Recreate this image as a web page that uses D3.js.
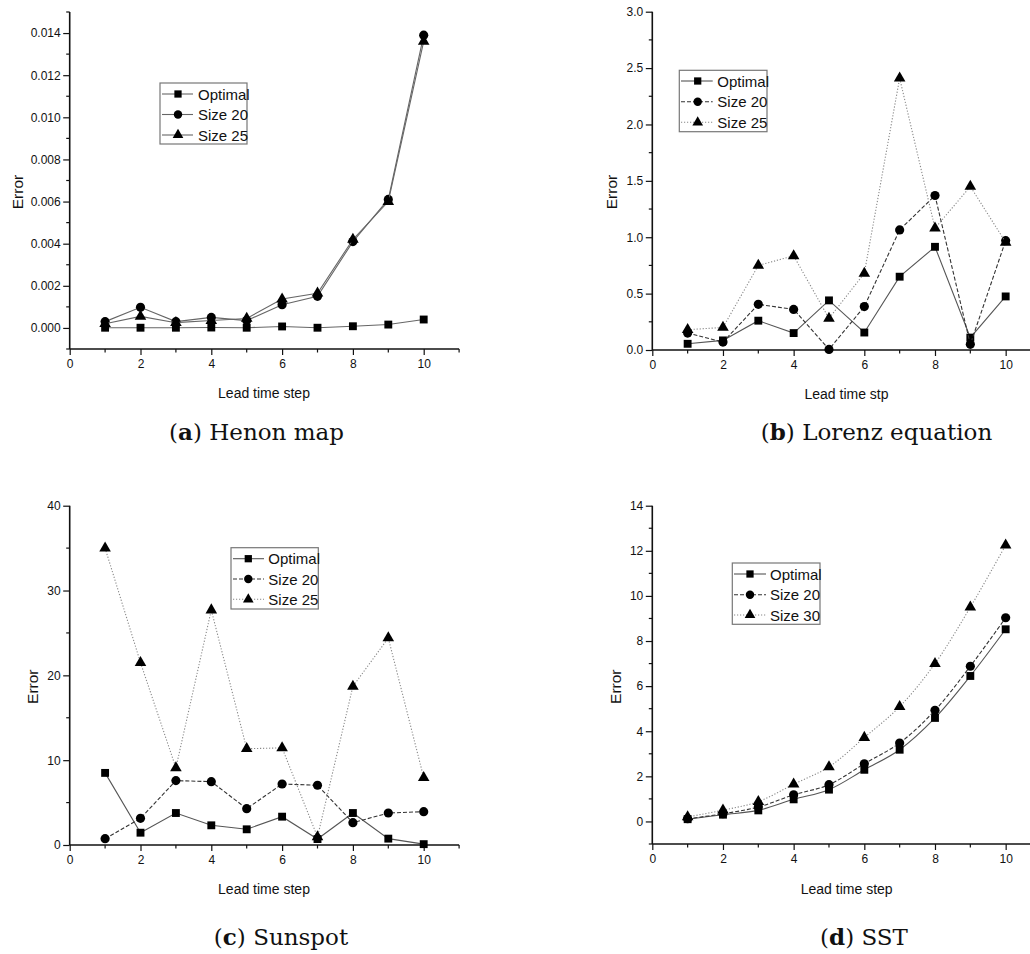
<!DOCTYPE html>
<html>
<head>
<meta charset="utf-8">
<script src="https://cdn.jsdelivr.net/npm/d3@7"></script>
<style>
  html, body { margin: 0; padding: 0; background: #fff; }
  svg { display: block; }
  .tick-label { font-family: "Liberation Sans", Arial, sans-serif; font-size: 12px; fill: #111; }
  .axis-title { font-family: "Liberation Sans", Arial, sans-serif; font-size: 14px; fill: #111; }
  .err-title { font-family: "Liberation Sans", Arial, sans-serif; font-size: 15.5px; fill: #111; }
  .legend-text { font-family: "Liberation Sans", Arial, sans-serif; font-size: 15px; fill: #111; }
  .caption { font-family: "DejaVu Serif", "Liberation Serif", serif; font-size: 23px; fill: #111; }
</style>
</head>
<body>
<svg id="chart" width="1030" height="954"></svg>
<script>
// ---------------- data ----------------
const steps = [1, 2, 3, 4, 5, 6, 7, 8, 9, 10];
const xTickValues = [0, 2, 4, 6, 8, 10];

// (a) Henon map
const henonOptimal = [0.00001, 0.00001, 0.00001, 0.00002, 0.00001, 0.00007, 0.00001, 0.00008, 0.00016, 0.0004];
const henonSize20  = [0.0003, 0.00098, 0.0003, 0.0005, 0.00035, 0.0011, 0.0015, 0.0041, 0.0061, 0.0139];
const henonSize25  = [0.0002, 0.00055, 0.00025, 0.00035, 0.00045, 0.00137, 0.00165, 0.0042, 0.006, 0.0136];
const henonYTicks  = [0, 0.002, 0.004, 0.006, 0.008, 0.010, 0.012, 0.014];
const henonLegend  = ["Optimal", "Size 20", "Size 25"];

// (b) Lorenz equation
const lorenzOptimal = [0.055, 0.085, 0.26, 0.15, 0.44, 0.155, 0.65, 0.915, 0.11, 0.475];
const lorenzSize20  = [0.15, 0.07, 0.405, 0.36, 0.005, 0.385, 1.065, 1.37, 0.05, 0.97];
const lorenzSize25  = [0.18, 0.2, 0.75, 0.835, 0.28, 0.68, 2.41, 1.08, 1.45, 0.955];
const lorenzYTicks  = [0, 0.5, 1.0, 1.5, 2.0, 2.5, 3.0];
const lorenzLegend  = ["Optimal", "Size 20", "Size 25"];

// (c) Sunspot
const sunspotOptimal = [8.5, 1.45, 3.77, 2.32, 1.85, 3.34, 0.7, 3.77, 0.75, 0.1];
const sunspotSize20  = [0.75, 3.14, 7.59, 7.47, 4.28, 7.19, 7.04, 2.63, 3.77, 3.93];
const sunspotSize25  = [35.0, 21.5, 9.1, 27.7, 11.35, 11.45, 0.95, 18.7, 24.4, 7.95];
const sunspotYTicks  = [0, 10, 20, 30, 40];
const sunspotLegend  = ["Optimal", "Size 20", "Size 25"];

// (d) SST
const sstOptimal = [0.1, 0.3, 0.49, 0.98, 1.41, 2.29, 3.18, 4.59, 6.45, 8.52];
const sstSize20  = [0.12, 0.34, 0.64, 1.18, 1.63, 2.56, 3.48, 4.93, 6.88, 9.03];
const sstSize30  = [0.2, 0.5, 0.88, 1.65, 2.42, 3.72, 5.09, 7.0, 9.5, 12.25];
const sstYTicks  = [0, 2, 4, 6, 8, 10, 12, 14];
const sstLegend  = ["Optimal", "Size 20", "Size 30"];

const captionLetters = ["a", "b", "c", "d"];
const captionTexts = [" Henon map", " Lorenz equation", " Sunspot", " SST"];
const xTitles = ["Lead time step", "Lead time stp", "Lead time step", "Lead time step"];

// ---------------- styles ----------------
const seriesStyles = [
  { symbol: d3.symbolSquare,   size: 62, dash: null,  color: "#555" },
  { symbol: d3.symbolCircle,   size: 66, dash: "4,2", color: "#333" },
  { symbol: d3.symbolTriangle, size: 58, dash: "1.2,1.8", color: "#888" }
];
const solidStyles = [
  { symbol: d3.symbolSquare,   size: 62, dash: null, color: "#666" },
  { symbol: d3.symbolCircle,   size: 66, dash: null, color: "#666" },
  { symbol: d3.symbolTriangle, size: 58, dash: null, color: "#666" }
];

const panels = [
  { series: [henonOptimal, henonSize20, henonSize25], legend: henonLegend, yTicks: henonYTicks,
    yDomain: [-0.001, 0.015], yMinorStep: 0.001, fmt: d3.format(".3f"),
    x0: 69.7, x11: 459.1, yTop: 12, yBot: 349, styles: solidStyles, curve: d3.curveLinear,
    errX: 17.5, errY: 192, xtX: 264, xtY: 393,
    leg: { x: 160, y: 83, w: 87, h: 61, rows: [94, 114.5, 135], mk: 178, tx: 198, l0: 162, l1: 193 },
    cap: { x: 256.5, y: 440 } },
  { series: [lorenzOptimal, lorenzSize20, lorenzSize25], legend: lorenzLegend, yTicks: lorenzYTicks,
    yDomain: [0, 3], yMinorStep: 0.25, fmt: d3.format(".1f"),
    x0: 652.3, x11: 1041, yTop: 11.7, yBot: 350, styles: seriesStyles, curve: d3.curveLinear,
    errX: 611.7, errY: 192, xtX: 846.5, xtY: 393.5,
    leg: { x: 679.3, y: 70.3, w: 87.7, h: 61.4, rows: [81, 101.7, 122.3], mk: 697.7, tx: 717.3, l0: 681, l1: 712.7 },
    cap: { x: 876.5, y: 440 } },
  { series: [sunspotOptimal, sunspotSize20, sunspotSize25], legend: sunspotLegend, yTicks: sunspotYTicks,
    yDomain: [0, 40], yMinorStep: 5, fmt: d3.format("d"),
    x0: 69.7, x11: 459.1, yTop: 505.7, yBot: 845, styles: seriesStyles, curve: d3.curveLinear,
    errX: 32.5, errY: 686.7, xtX: 264, xtY: 889,
    leg: { x: 231, y: 547.7, w: 87.3, h: 61.3, rows: [558.7, 579, 599.3], mk: 248.3, tx: 268.3, l0: 233, l1: 264 },
    cap: { x: 281, y: 945 } },
  { series: [sstOptimal, sstSize20, sstSize30], legend: sstLegend, yTicks: sstYTicks,
    yDomain: [-1, 14], yMinorStep: 1, fmt: d3.format("d"),
    x0: 652.3, x11: 1041, yTop: 505.7, yBot: 844, styles: seriesStyles, curve: d3.curveCatmullRom.alpha(0.5),
    errX: 615, errY: 686.7, xtX: 846.7, xtY: 889,
    leg: { x: 732.3, y: 563, w: 87.7, h: 61.3, rows: [574, 594.7, 615], mk: 750, tx: 770, l0: 734, l1: 766 },
    cap: { x: 864, y: 945 } }
];

const svg = d3.select("#chart");

panels.forEach((p, pi) => {
  const g = svg.append("g");
  const x = d3.scaleLinear().domain([0, 11]).range([p.x0, p.x11]);
  const y = d3.scaleLinear().domain(p.yDomain).range([p.yBot, p.yTop]);

  // minor ticks (y)
  const yMinor = d3.range(p.yDomain[0], p.yDomain[1] + p.yMinorStep / 2, p.yMinorStep)
    .filter(v => !p.yTicks.some(t => Math.abs(t - v) < p.yMinorStep / 10));
  g.selectAll(".ymin").data(yMinor).enter().append("line")
    .attr("x1", p.x0 - 3.5).attr("x2", p.x0)
    .attr("y1", d => y(d)).attr("y2", d => y(d))
    .attr("stroke", "#111").attr("stroke-width", 1.2);

  // major y axis
  const yAxis = d3.axisLeft(y).tickValues(p.yTicks).tickFormat(p.fmt).tickSize(6.5).tickPadding(2.5);
  const ya = g.append("g").attr("transform", `translate(${p.x0},0)`).call(yAxis);
  ya.select(".domain").attr("d", `M0,${p.yTop}V${p.yBot}`).attr("stroke", "#111").attr("stroke-width", 1.6);
  ya.selectAll(".tick line").attr("stroke", "#111").attr("stroke-width", 1.2);
  ya.selectAll(".tick text").attr("class", "tick-label").attr("font-family", null).attr("font-size", null);

  // minor x ticks
  const xMinor = d3.range(1, 12, 2);
  g.selectAll(".xmin").data(xMinor).enter().append("line")
    .attr("x1", d => x(d)).attr("x2", d => x(d))
    .attr("y1", p.yBot).attr("y2", p.yBot + 3.5)
    .attr("stroke", "#111").attr("stroke-width", 1.2);

  const xAxis = d3.axisBottom(x).tickValues(xTickValues).tickFormat(d3.format("d")).tickSize(6).tickPadding(4);
  const xa = g.append("g").attr("transform", `translate(0,${p.yBot})`).call(xAxis);
  xa.select(".domain").attr("d", `M${p.x0},0H${p.x11}`).attr("stroke", "#111").attr("stroke-width", 1.6);
  xa.selectAll(".tick line").attr("stroke", "#111").attr("stroke-width", 1.2);
  xa.selectAll(".tick text").attr("class", "tick-label").attr("font-family", null).attr("font-size", null);

  // axis titles
  g.append("text").attr("class", "err-title")
    .attr("transform", `translate(${p.errX},${p.errY}) rotate(-90)`)
    .attr("text-anchor", "middle").attr("dominant-baseline", "central").text("Error");
  g.append("text").attr("class", "axis-title")
    .attr("x", p.xtX).attr("y", p.xtY)
    .attr("text-anchor", "middle").attr("dominant-baseline", "central").text(xTitles[pi]);

  // series
  p.series.forEach((vals, si) => {
    const st = p.styles[si];
    const pts = steps.map((s, i) => [s, vals[i]]);
    const line = d3.line().x(d => x(d[0])).y(d => y(d[1])).curve(p.curve);
    g.append("path").attr("d", line(pts)).attr("fill", "none")
      .attr("stroke", st.color).attr("stroke-width", 1.1)
      .attr("stroke-dasharray", st.dash);
    g.selectAll(null).data(pts).enter().append("path")
      .attr("d", d3.symbol().type(st.symbol).size(st.size))
      .attr("transform", d => `translate(${x(d[0])},${y(d[1])})`)
      .attr("fill", "#000");
  });

  // legend
  const L = p.leg;
  g.append("rect").attr("x", L.x).attr("y", L.y).attr("width", L.w).attr("height", L.h)
    .attr("fill", "#fff").attr("stroke", "#777").attr("stroke-width", 1.2);
  p.legend.forEach((name, si) => {
    const st = p.styles[si];
    const ry = L.rows[si];
    g.append("line").attr("x1", L.l0).attr("x2", L.l1).attr("y1", ry).attr("y2", ry)
      .attr("stroke", st.color).attr("stroke-width", 1.1).attr("stroke-dasharray", st.dash);
    g.append("path").attr("d", d3.symbol().type(st.symbol).size(st.size * 0.85))
      .attr("transform", `translate(${L.mk},${ry})`).attr("fill", "#000");
    g.append("text").attr("class", "legend-text").attr("x", L.tx).attr("y", ry)
      .attr("dominant-baseline", "central").text(name);
  });

  // caption
  const cap = g.append("text").attr("class", "caption").attr("x", p.cap.x).attr("y", p.cap.y)
    .attr("text-anchor", "middle");
  cap.append("tspan").text("(");
  cap.append("tspan").attr("font-weight", "bold").text(captionLetters[pi]);
  cap.append("tspan").text(")" + captionTexts[pi]);
});
</script>
</body>
</html>
